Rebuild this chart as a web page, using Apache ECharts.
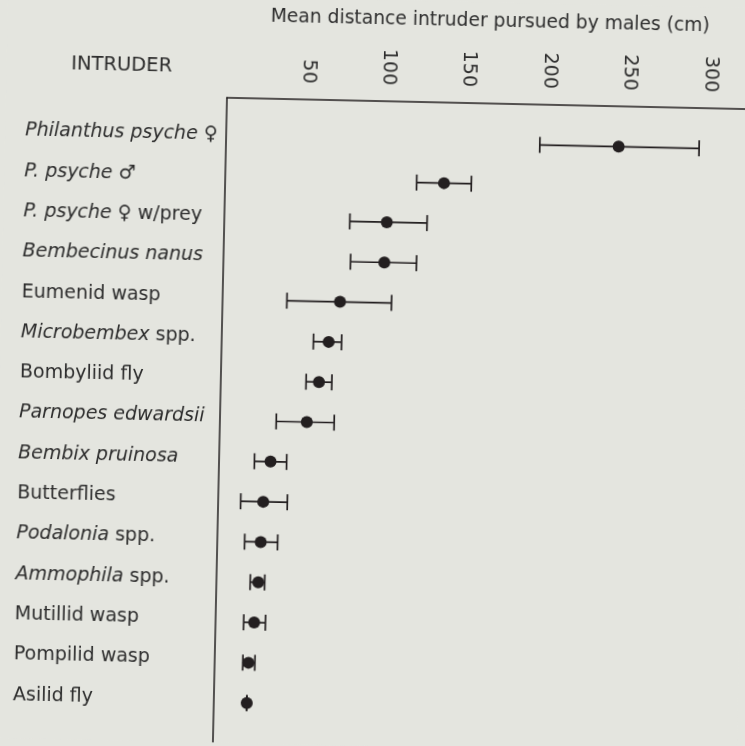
<!DOCTYPE html>
<html>
<head>
<meta charset="utf-8">
<script src="https://cdn.jsdelivr.net/npm/echarts@6/dist/echarts.min.js"></script>
<style>
  html, body { margin: 0; padding: 0; background: #e4e5df; overflow: hidden; }
  #chart { width: 745px; height: 746px; transform: rotate(1.25deg); transform-origin: 50% 50%; }
</style>
</head>
<body>
<div id="chart"></div>
<script>
// ---- data ----
const intruders = [
  'Philanthus psyche ♀', 'P. psyche ♂', 'P. psyche ♀ w/prey', 'Bembecinus nanus',
  'Eumenid wasp', 'Microbembex spp.', 'Bombyliid fly', 'Parnopes edwardsii',
  'Bembix pruinosa', 'Butterflies', 'Podalonia spp.', 'Ammophila spp.',
  'Mutillid wasp', 'Pompilid wasp', 'Asilid fly'
];
const meanDistance = [244, 136, 101, 100, 73, 66.5, 61, 54, 32, 28, 27, 26, 24, 21, 20.5];
const lowerBound   = [195, 119, 78, 79, 40, 57, 53, 35, 22, 14, 17, 21, 17.5, 17.5, 20.5];
const upperBound   = [294, 153, 126, 120, 105, 74.5, 69, 71, 42, 43, 37.5, 30, 31, 25, 20.5];
const xTicks = [50, 100, 150, 200, 250, 300];

// scientific (italic) name parts
const italicParts = ['Philanthus psyche ♀', 'P. psyche ♂', 'P. psyche', 'Bembecinus nanus',
  'Microbembex', 'Parnopes edwardsii', 'Bembix pruinosa', 'Podalonia', 'Ammophila'];

const INK = '#231f20';
const TEXT = '#2d2d2d';
const FONT = 'DejaVu Sans';

function richLabel(name) {
  for (const it of italicParts) {
    if (name.startsWith(it)) {
      const rest = name.slice(it.length);
      return '{i|' + it + '}' + (rest ? '{n|' + rest + '}' : '');
    }
  }
  return '{n|' + name + '}';
}

const errData = intruders.map((n, i) => [i, lowerBound[i], upperBound[i]]);
const dotData = intruders.map((n, i) => [meanDistance[i], i]);

const chart = echarts.init(document.getElementById('chart'), null, { renderer: 'canvas' });
chart.setOption({
  backgroundColor: '#e4e5df',
  animation: false,
  title: {
    text: 'INTRUDER',
    left: 110,
    top: 56,
    textAlign: 'center',
    textStyle: { fontFamily: FONT, fontSize: 19.5, fontWeight: 'normal', color: TEXT }
  },
  grid: { left: 221, right: 1, top: 101, bottom: 0, containLabel: false },
  xAxis: {
    type: 'value',
    position: 'top',
    min: 0,
    max: 325,
    interval: 50,
    name: 'Mean distance intruder pursued by males (cm)',
    nameLocation: 'middle',
    nameGap: 72,
    nameTextStyle: { fontFamily: FONT, fontSize: 18.7, color: TEXT },
    axisLine: { show: true, onZero: false, lineStyle: { color: INK, width: 1.5 } },
    axisTick: { show: false },
    splitLine: { show: false },
    axisLabel: {
      rotate: 90,
      margin: 16,
      showMinLabel: false,
      showMaxLabel: false,
      fontFamily: FONT,
      fontSize: 19,
      color: TEXT,
      formatter: v => (xTicks.indexOf(v) >= 0 ? String(v) : '')
    }
  },
  yAxis: {
    type: 'value',
    inverse: true,
    min: -1,
    max: 15,
    interval: 1,
    axisLine: { show: true, onZero: false, lineStyle: { color: INK, width: 1.5 } },
    axisTick: { show: false },
    splitLine: { show: false },
    axisLabel: {
      showMinLabel: false,
      showMaxLabel: false,
      align: 'left',
      margin: 201,
      padding: [0, 0, 6, 0],
      formatter: v => (v >= 0 && v < intruders.length ? richLabel(intruders[v]) : ''),
      rich: {
        i: { fontFamily: FONT, fontSize: 19, fontStyle: 'italic', color: TEXT },
        n: { fontFamily: FONT, fontSize: 19, color: TEXT }
      }
    }
  },
  series: [
    {
      type: 'custom',
      name: 'range',
      data: errData,
      encode: { x: [1, 2], y: 0 },
      renderItem: function (params, api) {
        const y = api.value(0);
        const a = api.coord([api.value(1), y]);
        const b = api.coord([api.value(2), y]);
        const h = 8;
        const st = { stroke: INK, lineWidth: 1.7 };
        return {
          type: 'group',
          children: [
            { type: 'line', shape: { x1: a[0], y1: a[1], x2: b[0], y2: b[1] }, style: st },
            { type: 'line', shape: { x1: a[0], y1: a[1] - h, x2: a[0], y2: a[1] + h }, style: st },
            { type: 'line', shape: { x1: b[0], y1: b[1] - h, x2: b[0], y2: b[1] + h }, style: st }
          ]
        };
      }
    },
    {
      type: 'scatter',
      name: 'mean',
      data: dotData,
      symbol: 'circle',
      symbolSize: 12,
      itemStyle: { color: INK, opacity: 1 },
      z: 3
    }
  ]
});
</script>
</body>
</html>
